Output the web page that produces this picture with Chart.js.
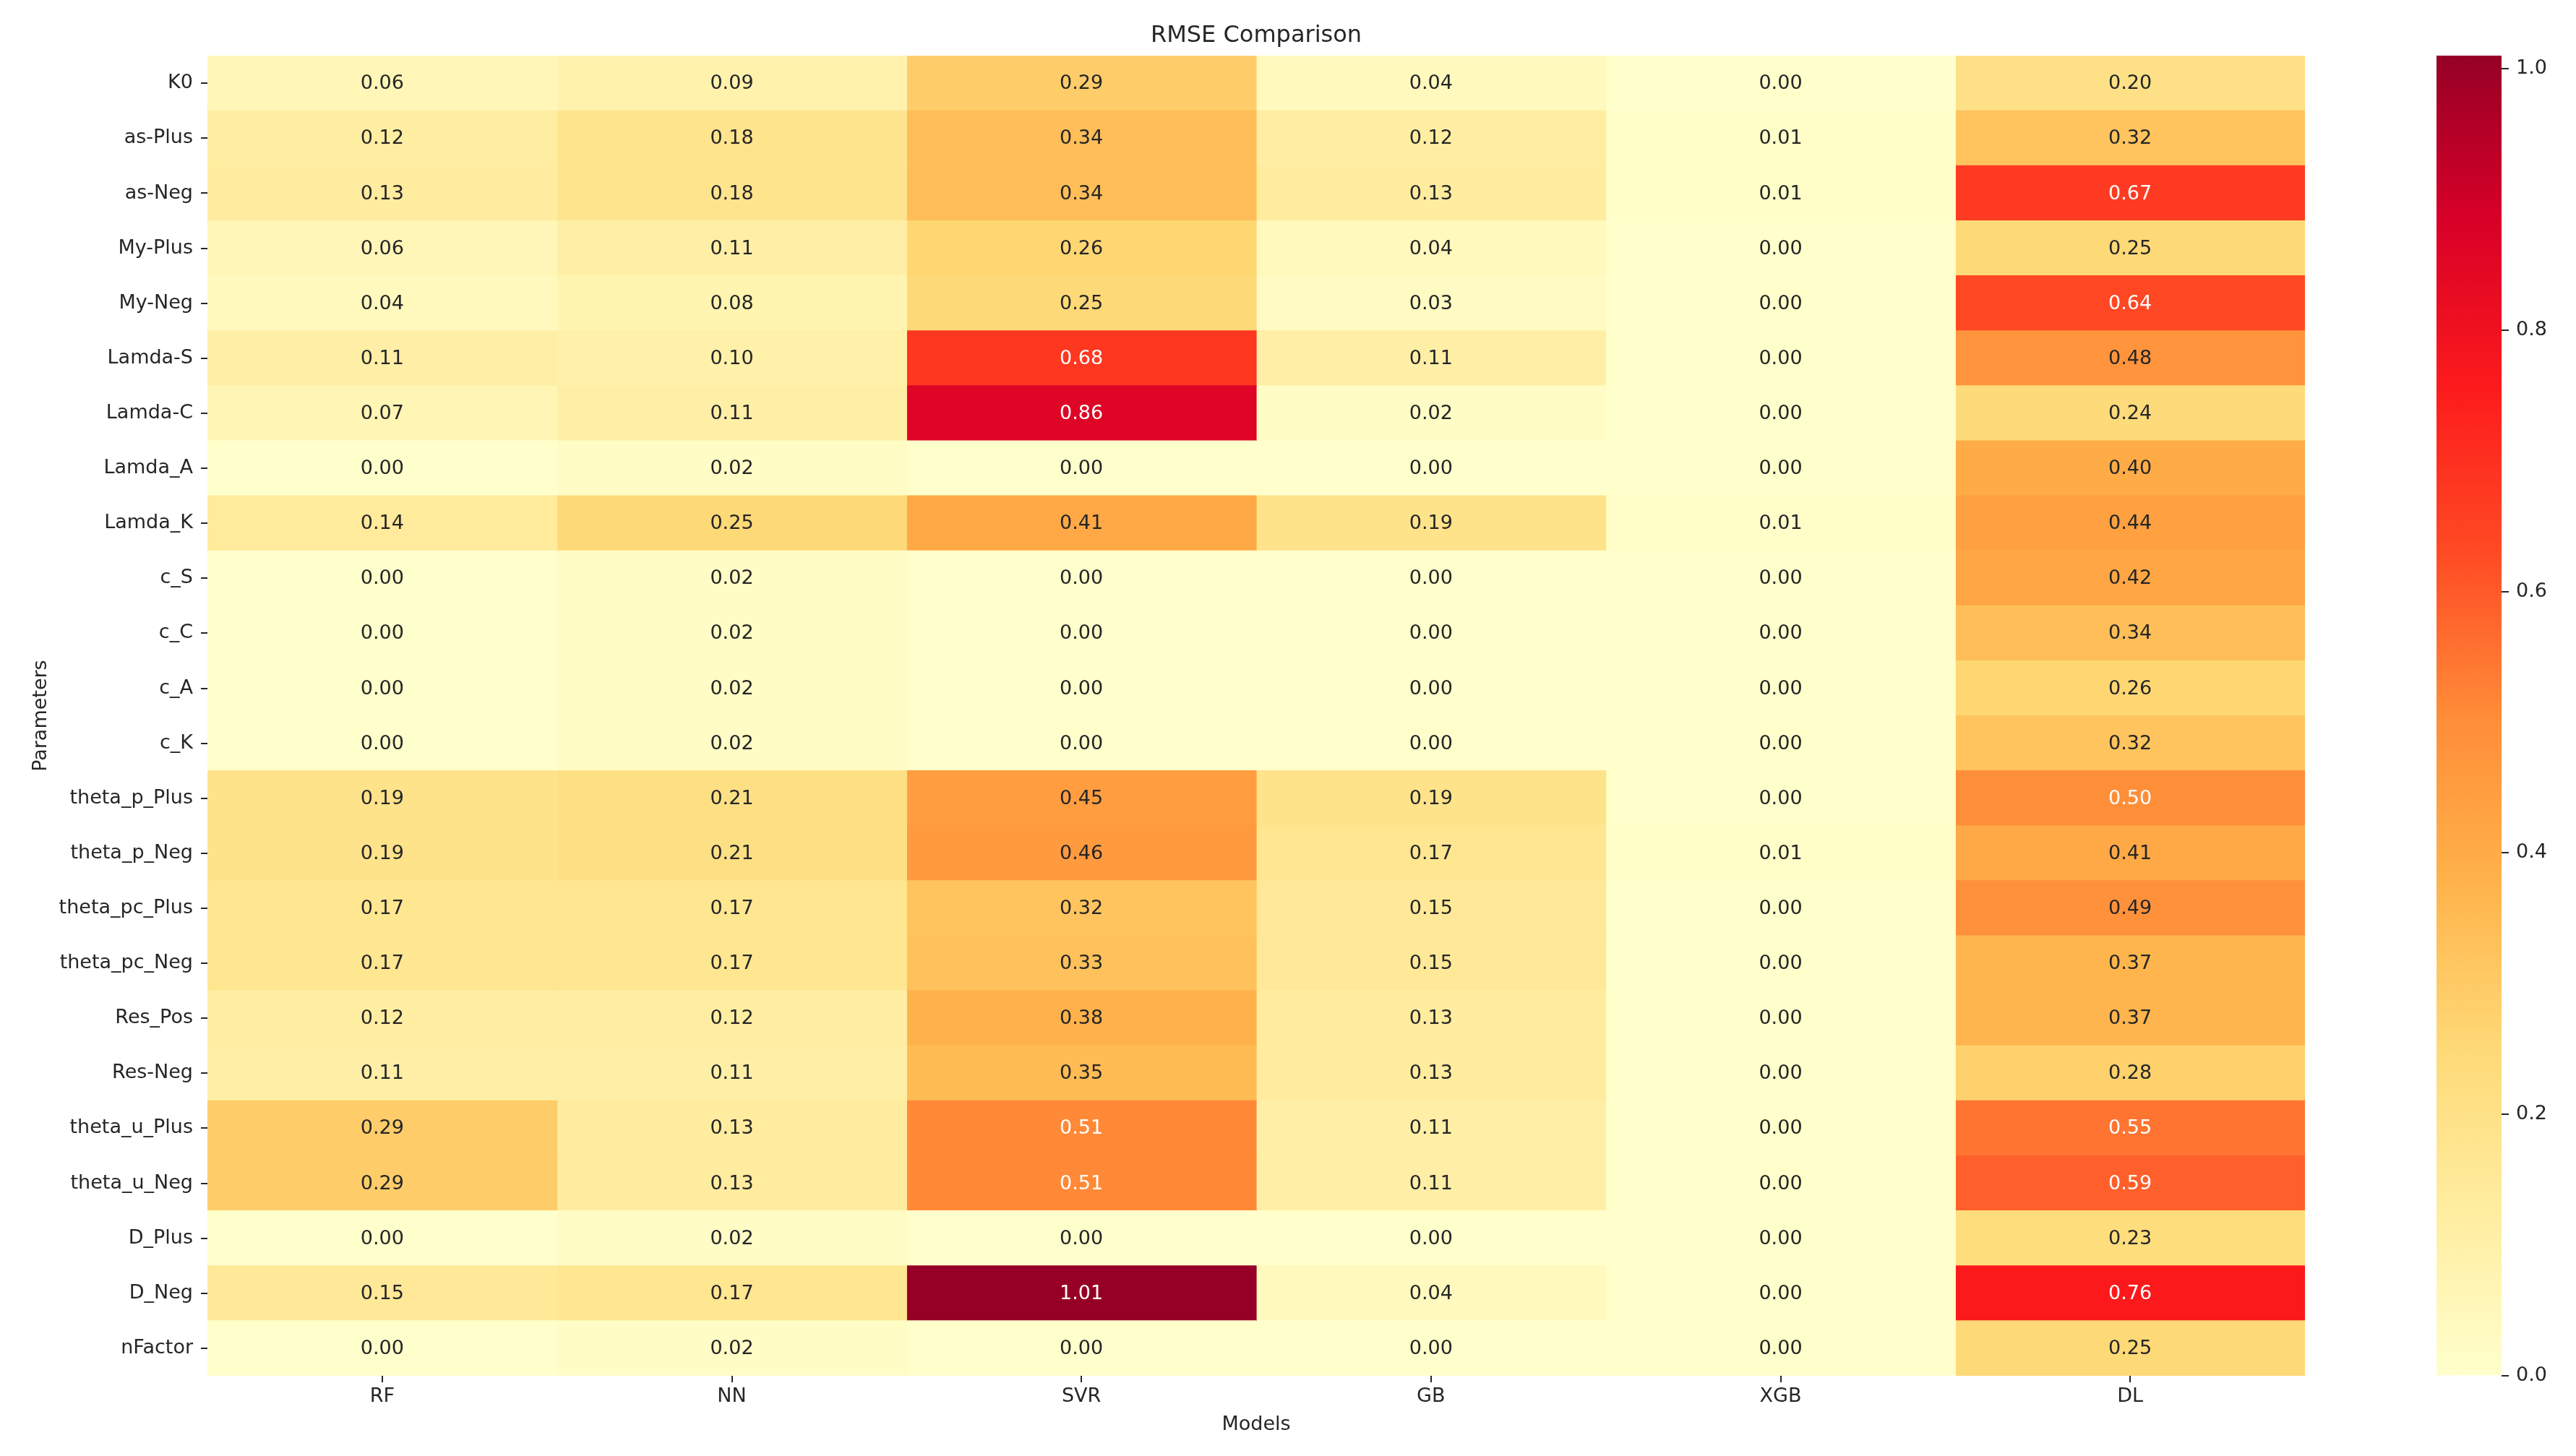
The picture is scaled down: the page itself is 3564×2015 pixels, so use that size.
<!DOCTYPE html>
<html>
<head>
<meta charset="utf-8">
<script src="https://cdn.jsdelivr.net/npm/chart.js@4.4.1/dist/chart.umd.min.js"></script>
<style>
  html, body { margin: 0; padding: 0; background: #ffffff; overflow: hidden; }
  #wrap { position: relative; width: 3564px; height: 2015px; background: #ffffff; }
  #main { position: absolute; left: 0; top: 0; }
  #cbar { position: absolute; left: 3300px; top: 0; }
</style>
</head>
<body>
<div id="wrap">
  <canvas id="main" width="3564" height="2015"></canvas>
  <canvas id="cbar" width="264" height="2015"></canvas>
</div>
<script>
// ---------- data ----------
const models = ['RF', 'NN', 'SVR', 'GB', 'XGB', 'DL'];
const params = ['K0', 'as-Plus', 'as-Neg', 'My-Plus', 'My-Neg', 'Lamda-S', 'Lamda-C', 'Lamda_A', 'Lamda_K',
  'c_S', 'c_C', 'c_A', 'c_K', 'theta_p_Plus', 'theta_p_Neg', 'theta_pc_Plus', 'theta_pc_Neg',
  'Res_Pos', 'Res-Neg', 'theta_u_Plus', 'theta_u_Neg', 'D_Plus', 'D_Neg', 'nFactor'];

const rf  = [0.06, 0.12, 0.13, 0.06, 0.04, 0.11, 0.07, 0.00, 0.14, 0.00, 0.00, 0.00, 0.00, 0.19, 0.19, 0.17, 0.17, 0.12, 0.11, 0.29, 0.29, 0.00, 0.15, 0.00];
const nn  = [0.09, 0.18, 0.18, 0.11, 0.08, 0.10, 0.11, 0.02, 0.25, 0.02, 0.02, 0.02, 0.02, 0.21, 0.21, 0.17, 0.17, 0.12, 0.11, 0.13, 0.13, 0.02, 0.17, 0.02];
const svr = [0.29, 0.34, 0.34, 0.26, 0.25, 0.68, 0.86, 0.00, 0.41, 0.00, 0.00, 0.00, 0.00, 0.45, 0.46, 0.32, 0.33, 0.38, 0.35, 0.51, 0.51, 0.00, 1.01, 0.00];
const gb  = [0.04, 0.12, 0.13, 0.04, 0.03, 0.11, 0.02, 0.00, 0.19, 0.00, 0.00, 0.00, 0.00, 0.19, 0.17, 0.15, 0.15, 0.13, 0.13, 0.11, 0.11, 0.00, 0.04, 0.00];
const xgb = [0.00, 0.01, 0.01, 0.00, 0.00, 0.00, 0.00, 0.00, 0.01, 0.00, 0.00, 0.00, 0.00, 0.00, 0.01, 0.00, 0.00, 0.00, 0.00, 0.00, 0.00, 0.00, 0.00, 0.00];
const dl  = [0.20, 0.32, 0.67, 0.25, 0.64, 0.48, 0.24, 0.40, 0.44, 0.42, 0.34, 0.26, 0.32, 0.50, 0.41, 0.49, 0.37, 0.37, 0.28, 0.55, 0.59, 0.23, 0.76, 0.25];

const colorbarTicks = [0.0, 0.2, 0.4, 0.6, 0.8, 1.0];

const values = [rf, nn, svr, gb, xgb, dl];
const valueMin = 0;
const valueMax = Math.max(...values.flat());

// ---------- colormap (YlOrRd, as it appears in the picture) ----------
const cmapStops = ['#ffffcc', '#ffeda0', '#fed976', '#ffb24a', '#ff8c38', '#ff4a24', '#fc1a1c', '#d80028', '#960026'];
// original YlOrRd stops, used for the annotation text-colour rule
const lumStops = ['#ffffcc', '#ffeda0', '#fed976', '#feb24c', '#fd8d3c', '#fc4e2a', '#e31a1c', '#bd0026', '#800026'];
function hexToRgb(h) { return [parseInt(h.substr(1, 2), 16), parseInt(h.substr(3, 2), 16), parseInt(h.substr(5, 2), 16)]; }
const cmapRgb = cmapStops.map(hexToRgb);
const lumRgb = lumStops.map(hexToRgb);
function interp(stops, t) {
  t = Math.max(0, Math.min(1, t));
  const s = t * (stops.length - 1);
  const i = Math.min(stops.length - 2, Math.floor(s));
  const f = s - i;
  const a = stops[i], b = stops[i + 1];
  return [0, 1, 2].map(k => Math.round(a[k] + (b[k] - a[k]) * f));
}
function norm(v) { return (v - valueMin) / (valueMax - valueMin); }
function cmap(v) {
  const c = interp(cmapRgb, norm(v));
  return 'rgb(' + c[0] + ',' + c[1] + ',' + c[2] + ')';
}
function textColor(v) {
  const c = interp(lumRgb, norm(v)).map(x => {
    x /= 255;
    return x <= 0.03928 ? x / 12.92 : Math.pow((x + 0.055) / 1.055, 2.4);
  });
  const l = 0.2126 * c[0] + 0.7152 * c[1] + 0.0722 * c[2];
  return l > 0.408 ? '#262626' : '#ffffff';
}

const FONT = 'DejaVu Sans';
const INK = '#262626';
Chart.defaults.font.family = FONT;
Chart.defaults.color = INK;

// ---------- annotation plugin ----------
const annotPlugin = {
  id: 'annot',
  afterDatasetsDraw(chart) {
    const ctx = chart.ctx;
    ctx.save();
    ctx.font = '27px "' + FONT + '"';
    ctx.textAlign = 'center';
    ctx.textBaseline = 'middle';
    chart.data.datasets.forEach((ds, j) => {
      chart.getDatasetMeta(j).data.forEach((el, i) => {
        const v = values[j][i];
        const p = el.getCenterPoint();
        ctx.fillStyle = textColor(v);
        ctx.fillText(v.toFixed(2), p.x, p.y + 1);
      });
    });
    ctx.restore();
  }
};

// ---------- heatmap ----------
new Chart(document.getElementById('main'), {
  type: 'bar',
  data: {
    labels: params,
    datasets: models.map((m, j) => ({
      label: m,
      data: params.map(() => [j, j + 1]),
      backgroundColor: values[j].map(cmap),
      borderWidth: 0,
      inflateAmount: 0.6,
      barPercentage: 1,
      categoryPercentage: 1,
      grouped: false
    }))
  },
  options: {
    indexAxis: 'y',
    responsive: false,
    animation: false,
    devicePixelRatio: 1,
    layout: { padding: { left: 0, top: 0, right: 375, bottom: 0 } },
    plugins: {
      legend: { display: false },
      tooltip: { enabled: false },
      title: {
        display: true,
        fullSize: false,
        text: 'RMSE Comparison',
        color: INK,
        font: { size: 32, weight: 'normal', family: FONT },
        padding: { top: 30, bottom: 8.8 }
      }
    },
    scales: {
      x: {
        type: 'linear',
        position: 'bottom',
        min: 0,
        max: models.length,
        afterBuildTicks: s => { s.ticks = models.map((m, i) => ({ value: i + 0.5 })); },
        afterFit: s => { s.height = 111; },
        ticks: {
          callback: (v, i) => models[i],
          autoSkip: false,
          maxRotation: 0,
          padding: 4,
          color: INK,
          font: { size: 27, family: FONT }
        },
        grid: { display: true, drawOnChartArea: false, drawTicks: true, tickLength: 9, color: INK, lineWidth: 2 },
        border: { display: false },
        title: {
          display: true,
          text: 'Models',
          color: INK,
          font: { size: 27, family: FONT },
          padding: { top: 0, bottom: 27 }
        }
      },
      y: {
        type: 'category',
        position: 'left',
        afterFit: s => { s.width = 287; },
        ticks: {
          autoSkip: false,
          padding: 11,
          color: INK,
          font: { size: 27, family: FONT }
        },
        grid: { display: true, offset: false, drawOnChartArea: false, drawTicks: true, tickLength: 9, color: INK, lineWidth: 2 },
        border: { display: false },
        title: {
          display: true,
          text: 'Parameters',
          color: INK,
          font: { size: 27, family: FONT },
          padding: { top: 41, bottom: 0 }
        }
      }
    }
  },
  plugins: [annotPlugin]
});

// ---------- colorbar ----------
new Chart(document.getElementById('cbar'), {
  type: 'bar',
  data: {
    labels: [''],
    datasets: [{
      data: [[valueMin, valueMax]],
      backgroundColor: (c) => {
        const a = c.chart.chartArea;
        if (!a) return cmapStops[0];
        const g = c.chart.ctx.createLinearGradient(0, a.bottom, 0, a.top);
        cmapStops.forEach((s, i) => g.addColorStop(i / (cmapStops.length - 1), s));
        return g;
      },
      borderWidth: 0,
      barPercentage: 1,
      categoryPercentage: 1
    }]
  },
  options: {
    responsive: false,
    animation: false,
    devicePixelRatio: 1,
    layout: { padding: { left: 71, top: 77, right: 0, bottom: 111 } },
    plugins: { legend: { display: false }, tooltip: { enabled: false } },
    scales: {
      x: { display: false },
      y: {
        position: 'right',
        min: valueMin,
        max: valueMax,
        afterBuildTicks: s => { s.ticks = colorbarTicks.map(v => ({ value: v })); },
        afterFit: s => { s.width = 103; },
        ticks: {
          callback: v => v.toFixed(1),
          padding: 10,
          color: INK,
          font: { size: 27, family: FONT }
        },
        grid: { display: true, drawOnChartArea: false, drawTicks: true, tickLength: 10, color: INK, lineWidth: 2 },
        border: { display: false }
      }
    }
  }
});
</script>
</body>
</html>
